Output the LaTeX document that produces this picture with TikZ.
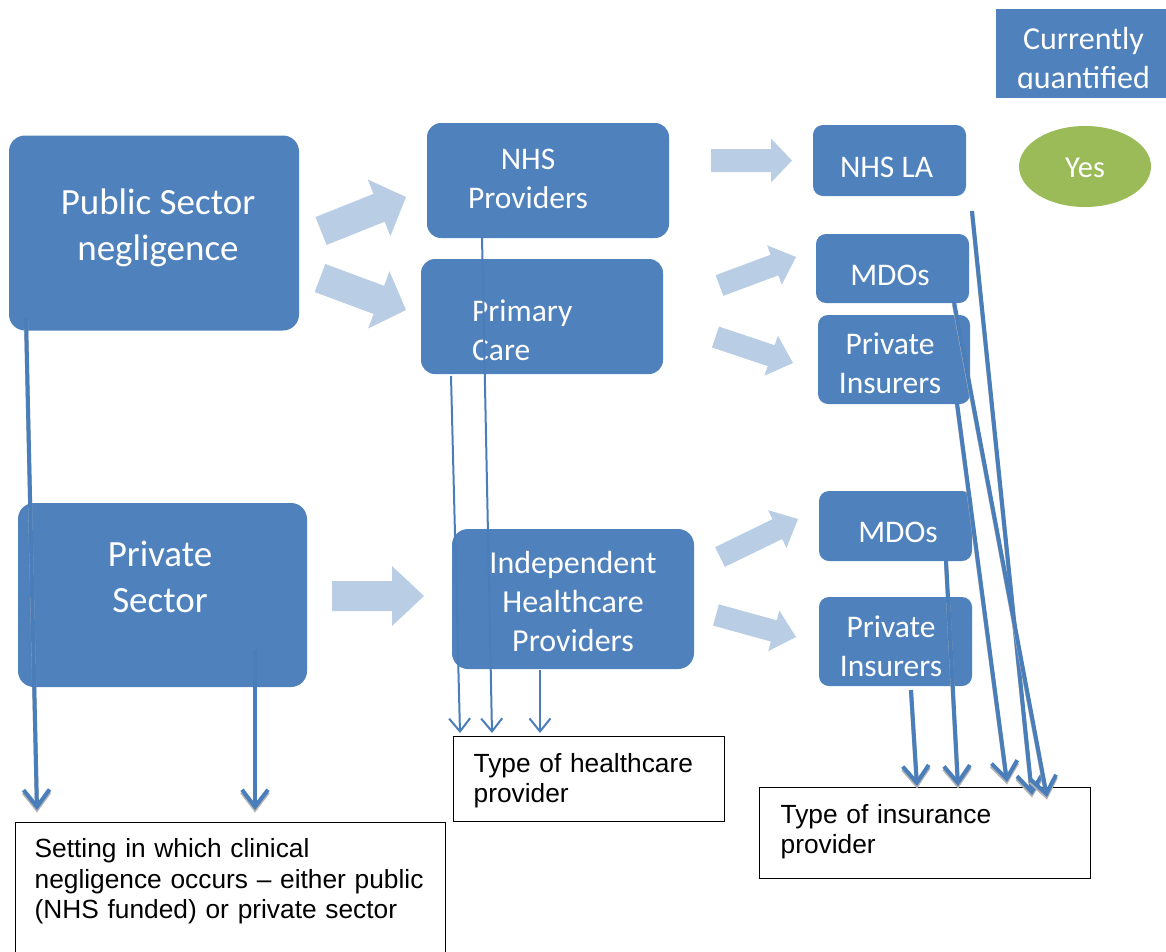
\documentclass[tikz,border=0pt]{standalone}
\usepackage{fontspec}
\setmainfont{Carlito}
\newfontfamily\arialf{Liberation Sans}
\usetikzlibrary{arrows.meta,calc,shapes.geometric}
\definecolor{boxblue}{HTML}{4F81BD}
\definecolor{lineblue}{HTML}{4A7EBB}
\definecolor{lightblue}{HTML}{B9CDE5}
\definecolor{yesgreen}{HTML}{9BBB59}
% block arrow: tail, tip, shaft half-width, head half-width, head length
\newcommand\blkarrow[5]{%
  \coordinate (bh) at ($(#2)!#5!(#1)$);
  \fill[lightblue] ($(#1)!#3!90:(#2)$) -- ($(bh)!#3!90:(#2)$) -- ($(bh)!#4!90:(#2)$) -- (#2)
    -- ($(bh)!#4!-90:(#2)$) -- ($(bh)!#3!-90:(#2)$) -- ($(#1)!#3!-90:(#2)$) -- cycle;}
\tikzset{
  bbox/.style={fill=boxblue, inner sep=0pt, rounded corners=10pt},
  wt/.style={text=white, align=center, inner sep=0pt},
  bigf/.style={font=\fontsize{37}{46}\selectfont},
  midf/.style={font=\fontsize{31.5}{39}\selectfont},
  lbl/.style={draw=black, line width=1.3pt, fill=white, anchor=north west, align=left,
    inner ysep=0pt, font=\arialf\fontsize{26.3}{30}\selectfont},
  conA/.style={draw=lineblue, line width=4pt, -{Straight Barb[length=17pt,width=26pt]},
    preaction={draw=gray!60, line width=4pt, transform canvas={yshift=-2.5pt}}},
  conB/.style={draw=lineblue, line width=2pt, -{Straight Barb[length=13pt,width=21pt]}}
}
\begin{document}
\begin{tikzpicture}[x=1pt,y=-1pt]
\useasboundingbox (0,0) rectangle (1166,951);
\clip (0,0) rectangle (1166,951);
\fill[white] (0,0) rectangle (1166,951);

% block arrows
\coordinate (a1t) at (321,231); \coordinate (a1p) at (406,197);
\coordinate (a2t) at (320,278); \coordinate (a2p) at (406,310);
\coordinate (a3t) at (711,160.5); \coordinate (a3p) at (792,160.5);
\coordinate (a4t) at (719.5,285.5); \coordinate (a4p) at (796,257);
\coordinate (a5t) at (715.5,337); \coordinate (a5p) at (793,363);
\coordinate (a6t) at (332,596); \coordinate (a6p) at (424,596);
\coordinate (a7t) at (720,557); \coordinate (a7p) at (798,519);
\coordinate (a8t) at (716,615); \coordinate (a8p) at (796,637);
\blkarrow{a1t}{a1p}{15pt}{30.5pt}{29pt}
\blkarrow{a2t}{a2p}{15pt}{30.5pt}{29pt}
\blkarrow{a3t}{a3p}{11.5pt}{22pt}{21pt}
\blkarrow{a4t}{a4p}{11pt}{21pt}{23pt}
\blkarrow{a5t}{a5p}{11pt}{21pt}{23pt}
\blkarrow{a6t}{a6p}{15pt}{30pt}{32pt}
\blkarrow{a7t}{a7p}{11pt}{21pt}{23pt}
\blkarrow{a8t}{a8p}{11pt}{21pt}{23pt}

% boxes
\node[bbox, rounded corners=16pt, minimum width=290pt, minimum height=195pt] (pub) at (154,233) {};
\node[bbox, rounded corners=14pt, minimum width=242pt, minimum height=115pt] (nhsp) at (548,180.5) {};
\node[bbox, rounded corners=14pt, minimum width=242pt, minimum height=115pt] (prim) at (542,316.5) {};
\node[bbox, minimum width=153pt, minimum height=71pt] (nhsla) at (889.5,160.5) {};
\node[ellipse, fill=yesgreen, inner sep=0pt, minimum width=132pt, minimum height=81pt] (yes) at (1085,166.5) {};
\node[fill=boxblue, inner sep=0pt, minimum width=170pt, minimum height=89pt] (cq) at (1081,53.5) {};
\node[bbox, minimum width=153pt, minimum height=69pt] (mdo1) at (892.5,268.5) {};
\node[bbox, minimum width=152pt, minimum height=89pt] (pi1) at (894,359.5) {};
\node[bbox, rounded corners=16pt, minimum width=289pt, minimum height=184pt] (priv) at (162.5,595) {};
\node[bbox, rounded corners=16pt, minimum width=242pt, minimum height=140pt] (ind) at (573,599) {};
\node[bbox, minimum width=153pt, minimum height=70pt] (mdo2) at (895.5,526) {};
\node[bbox, minimum width=153pt, minimum height=89pt] (pi2) at (895.5,641.5) {};

% texts
\node[wt, bigf] (pubt) at (158,228) {Public Sector\\negligence};
\node[wt, midf] (nhspt) at (528,179) {NHS\\Providers};
\node[wt, midf, align=left, anchor=west] (primt) at (472,330) {Primary\\Care};
\node[wt, midf] (nhslat) at (886.5,167) {NHS LA};
\node[wt, font=\fontsize{30.5}{36}\selectfont] (yest) at (1085,168) {Yes};
\begin{scope}
  \clip (996,9) rectangle (1166,88);
  \node[wt, font=\fontsize{32}{39}\selectfont] (cqt) at (1083.5,60.6) {Currently\\quantified};
\end{scope}
\node[wt, midf] (mdo1t) at (890,275) {MDOs};
\node[wt, midf] (pi1t) at (890,363) {Private\\Insurers};
\node[wt, bigf] (privt) at (160,577) {Private\\Sector};
\node[wt, font=\fontsize{32}{39}\selectfont] (indt) at (573,601) {Independent\\Healthcare\\Providers};
\node[wt, midf] (mdo2t) at (898,532) {MDOs};
\node[wt, midf] (pi2t) at (891,646) {Private\\Insurers};

% label boxes
\node[lbl, text width=231pt, inner xsep=20pt, text height=36pt, text depth=49pt] (hc) at (453,736)
  {Type of healthcare\\provider};
\node[lbl, text width=289pt, inner xsep=21pt, text height=36pt, text depth=55pt] (ins) at (759,787)
  {Type of insurance\\provider};
\node[lbl, text width=392pt, inner xsep=19pt, text height=35pt, text depth=103pt,
  font=\arialf\fontsize{26.3}{30.5}\selectfont] (set) at (15,822)
  {Setting in which clinical\\negligence occurs – either public\\(NHS funded) or private sector};

% connectors
\coordinate (s1) at (26,318);   \coordinate (e1) at (37,810);
\coordinate (s2) at (255,650);  \coordinate (e2) at (255,810);
\coordinate (s3) at (451,376);  \coordinate (e3) at (460,733);
\coordinate (s4) at (482,237);  \coordinate (e4) at (492,733);
\coordinate (s5) at (540,670);  \coordinate (e5) at (540,733);
\coordinate (s6) at (911,690);  \coordinate (e6) at (917,786);
\coordinate (s7) at (946,561);  \coordinate (e7) at (958,786);
\coordinate (s8) at (957,403);  \coordinate (e8) at (1007,782);
\coordinate (s9) at (972,211);  \coordinate (e9) at (1032,795);
\coordinate (s10) at (954,302); \coordinate (e10) at (1047,797);
\draw[conA] (s1) -- (e1);
\draw[conA] (s2) -- (e2);
\draw[conB] (s3) -- (e3);
\draw[conB] (s4) -- (e4);
\draw[conB] (s5) -- (e5);
\draw[conA] (s6) -- (e6);
\draw[conA] (s7) -- (e7);
\draw[conA] (s8) -- (e8);
\draw[conA] (s9) -- (e9);
\draw[conA] (s10) -- (e10);
\end{tikzpicture}
\end{document}
